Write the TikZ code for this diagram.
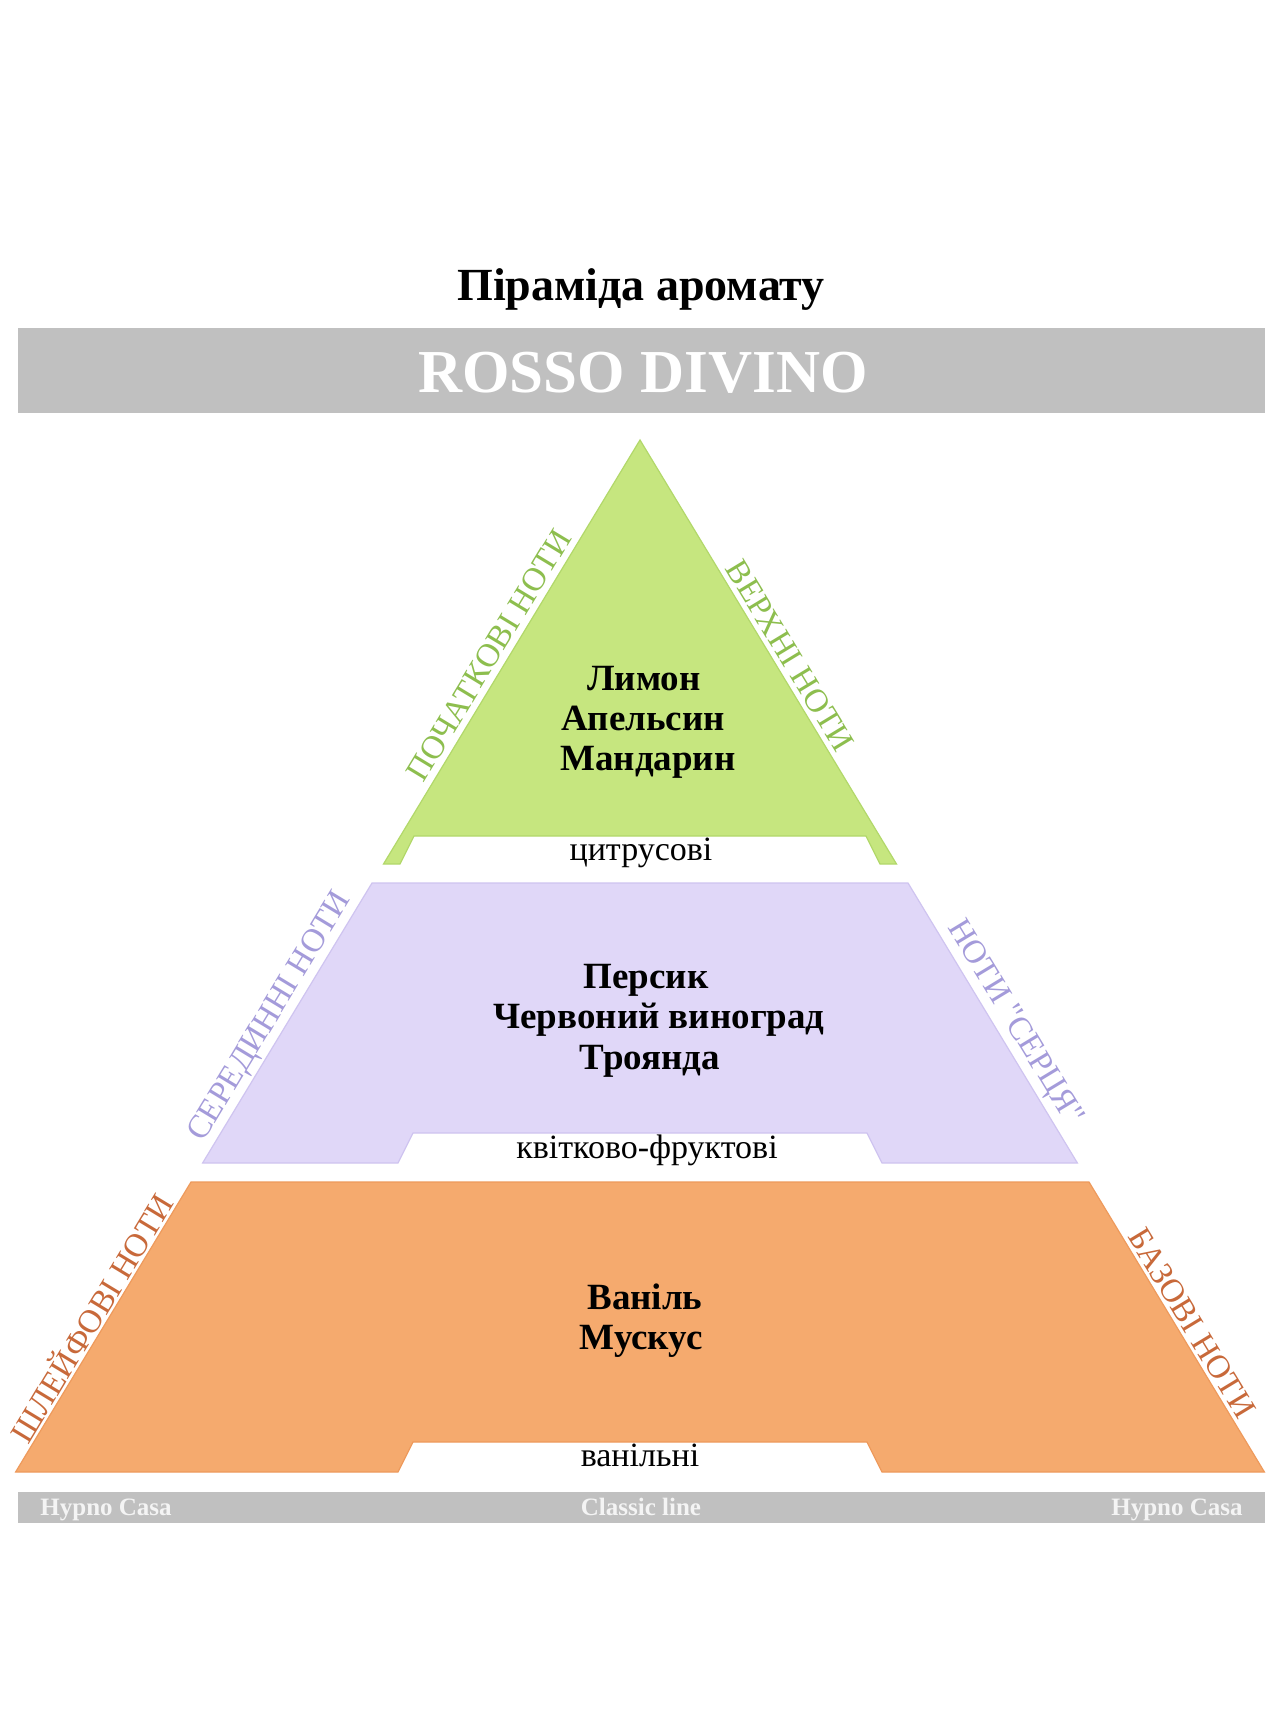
\documentclass[tikz,border=0pt]{standalone}
\usepackage{fontspec}
\setmainfont{Liberation Serif}
\definecolor{bandgray}{HTML}{C0C0C0}
\definecolor{topfill}{HTML}{C6E67F}
\definecolor{topedge}{HTML}{B2D86A}
\definecolor{toplabel}{HTML}{8DBE4E}
\definecolor{midfill}{HTML}{E0D7F8}
\definecolor{midedge}{HTML}{CFC4F0}
\definecolor{midlabel}{HTML}{A49BDA}
\definecolor{botfill}{HTML}{F5AA6E}
\definecolor{botedge}{HTML}{EE9A5C}
\definecolor{botlabel}{HTML}{C8693A}
\definecolor{foottext}{HTML}{F4F4F4}
\begin{document}
\begin{tikzpicture}[x=0.5pt,y=-0.5pt,
  notes/.style={font=\fontsize{18.5}{20}\selectfont\bfseries, anchor=base, inner sep=0pt},
  family/.style={font=\fontsize{17}{20}\selectfont, anchor=base, inner sep=0pt},
  sidelabel/.style={font=\fontsize{16.5}{19}\selectfont\addfontfeature{Ligatures=TeXOff}, inner sep=0pt},
  foot/.style={font=\fontsize{12.5}{14}\selectfont\bfseries, text=foottext, anchor=base, inner sep=0pt},
  tier/.style={line width=0.6pt, line join=miter}]
\useasboundingbox (0,0) rectangle (1284,1713);
\fill[white] (0,0) rectangle (1284,1713);

% title and header band
\node[font=\fontsize{23}{27}\selectfont\bfseries, anchor=base, inner sep=0pt] (title) at (641,300) {Піраміда аромату};
\fill[bandgray] (18,328) rectangle (1265,413);
\node[font=\fontsize{30.5}{34}\selectfont\bfseries, text=white, anchor=base, inner sep=0pt] (brand) at (643,392) {ROSSO DIVINO};

% top tier
\filldraw[tier, fill=topfill, draw=topedge] (640,440) -- (896.5,864) -- (880,864) -- (866,836) -- (414,836) -- (400,864) -- (383.5,864) -- cycle;
% middle tier
\filldraw[tier, fill=midfill, draw=midedge] (372,883) -- (908,883) -- (1077.4,1163) -- (882,1163) -- (867,1133) -- (413,1133) -- (398,1163) -- (202.6,1163) -- cycle;
% bottom tier
\filldraw[tier, fill=botfill, draw=botedge] (191,1182) -- (1089,1182) -- (1264.4,1472) -- (882,1472) -- (867,1442) -- (413,1442) -- (398,1472) -- (15.6,1472) -- cycle;

% footer band
\fill[bandgray] (18,1492) rectangle (1265,1523);
\node[foot, anchor=base west] (footl) at (40,1515) {Hypno Casa};
\node[foot] (footc) at (641,1515) {Classic line};
\node[foot, anchor=base east] (footr) at (1243,1515) {Hypno Casa};

% top tier texts
\node[notes] (t1) at (644,690) {Лимон};
\node[notes] (t2) at (643,730) {Апельсин};
\node[notes] (t3) at (648,770) {Мандарин};
\node[family] (tfam) at (641,860) {цитрусові};
\node[sidelabel, text=toplabel, rotate=58.8] (tl) at (489,655) {ПОЧАТКОВІ НОТИ};
\node[sidelabel, text=toplabel, rotate=-58.8] (tr) at (790,656) {ВЕРХНІ НОТИ};

% middle tier texts
\node[notes] (m1) at (646,988) {Персик};
\node[notes] (m2) at (659,1028) {Червоний виноград};
\node[notes] (m3) at (650,1069) {Троянда};
\node[family] (mfam) at (647,1158) {квітково-фруктові};
\node[sidelabel, text=midlabel, rotate=58.8] (ml) at (271,1017) {СЕРЕДИННІ НОТИ};
\node[sidelabel, text=midlabel, rotate=-58.8] (mr) at (1014,1023) {НОТИ "СЕРЦЯ"};

% bottom tier texts
\node[notes] (b1) at (645,1309) {Ваніль};
\node[notes] (b2) at (641,1349) {Мускус};
\node[family] (bfam) at (640,1466) {ванільні};
\node[sidelabel, text=botlabel, rotate=58.8] (bl) at (90,1317) {ШЛЕЙФОВІ НОТИ};
\node[sidelabel, text=botlabel, rotate=-58.8] (br) at (1192,1323) {БАЗОВІ НОТИ};
\end{tikzpicture}
\end{document}
